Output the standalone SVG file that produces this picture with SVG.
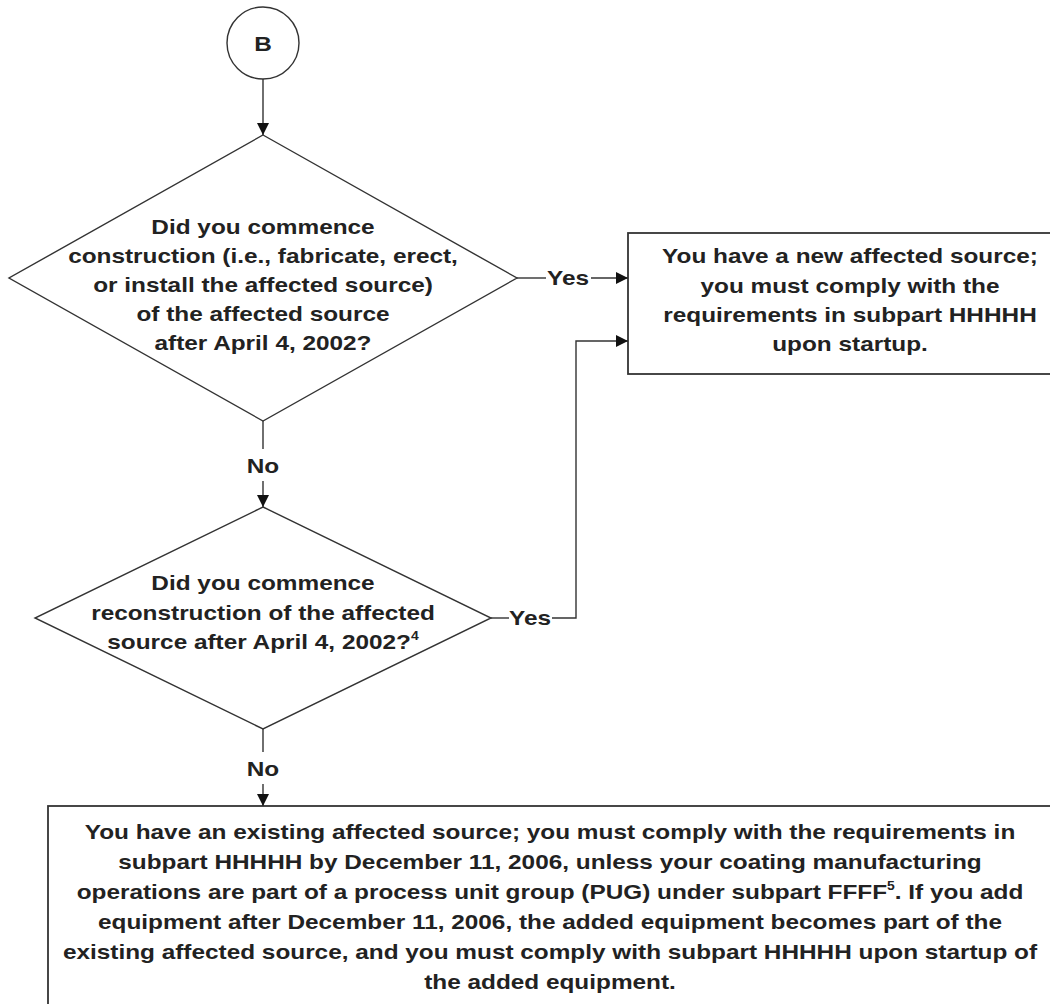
<svg xmlns="http://www.w3.org/2000/svg" width="1050" height="1004" viewBox="0 0 1050 1004">
<defs>
<style>
.shape{fill:#fff;stroke:#333;stroke-width:1.4}
.box{fill:#fff;stroke:#333;stroke-width:1.8}
.conn{fill:none;stroke:#333;stroke-width:1.4}
.t{font-family:"Liberation Sans",Arial,Helvetica,sans-serif;font-weight:bold;font-size:21px;fill:#222;text-anchor:middle}
.sup{font-size:12px}
</style>
<marker id="arr" markerUnits="userSpaceOnUse" markerWidth="14" markerHeight="12" refX="12" refY="6" orient="auto">
<path d="M0,0 L12,6 L0,12 Z" fill="#111"/>
</marker>
</defs>
<rect width="1050" height="1004" fill="#fff"/>

<g id="startB">
<circle class="shape" cx="263" cy="43" r="36"/>
<g transform="translate(263 0) scale(1.16 1)"><text class="t" x="0" y="51">B</text></g>
</g>

<g id="q1">
<polygon class="shape" points="263,135 517,278 263,421 9,278"/>
<g transform="translate(263 0) scale(1.16 1)">
<text class="t" x="0" y="234">Did you commence</text>
<text class="t" x="0" y="263">construction (i.e., fabricate, erect,</text>
<text class="t" x="0" y="292">or install the affected source)</text>
<text class="t" x="0" y="321">of the affected source</text>
<text class="t" x="0" y="350">after April 4, 2002?</text>
</g>
</g>

<g id="newSource">
<rect class="box" x="628" y="233" width="445" height="141"/>
<g transform="translate(850 0) scale(1.16 1)">
<text class="t" x="0" y="263">You have a new affected source;</text>
<text class="t" x="0" y="293">you must comply with the</text>
<text class="t" x="0" y="322">requirements in subpart HHHHH</text>
<text class="t" x="0" y="351">upon startup.</text>
</g>
</g>

<g id="q2">
<polygon class="shape" points="263,507 491,618 263,729 35,618"/>
<g transform="translate(263 0) scale(1.16 1)">
<text class="t" x="0" y="590">Did you commence</text>
<text class="t" x="0" y="620">reconstruction of the affected</text>
<text class="t" x="0" y="649">source after April 4, 2002?<tspan class="sup" dy="-9">4</tspan></text>
</g>
</g>

<g id="existingSource">
<rect class="box" x="48" y="806" width="1010" height="220"/>
<g transform="translate(550 0) scale(1.16 1)">
<text class="t" x="0" y="839">You have an existing affected source; you must comply with the requirements in</text>
<text class="t" x="0" y="869">subpart HHHHH by December 11, 2006, unless your coating manufacturing</text>
<text class="t" x="0" y="899">operations are part of a process unit group (PUG) under subpart FFFF<tspan class="sup" dy="-9">5</tspan><tspan dy="9">. If you add</tspan></text>
<text class="t" x="0" y="929">equipment after December 11, 2006, the added equipment becomes part of the</text>
<text class="t" x="0" y="959">existing affected source, and you must comply with subpart HHHHH upon startup of</text>
<text class="t" x="0" y="989">the added equipment.</text>
</g>
</g>

<g id="connectors">
<line class="conn" x1="263" y1="79" x2="263" y2="135" marker-end="url(#arr)"/>
<line class="conn" x1="517" y1="278" x2="546" y2="278"/>
<line class="conn" x1="591" y1="278" x2="628" y2="278" marker-end="url(#arr)"/>
<line class="conn" x1="263" y1="421" x2="263" y2="449"/>
<line class="conn" x1="263" y1="481" x2="263" y2="507" marker-end="url(#arr)"/>
<line class="conn" x1="491" y1="618" x2="509" y2="618"/>
<polyline class="conn" points="552,618 576,618 576,341 628,341" marker-end="url(#arr)"/>
<line class="conn" x1="263" y1="729" x2="263" y2="752"/>
<line class="conn" x1="263" y1="784" x2="263" y2="806" marker-end="url(#arr)"/>
<g transform="translate(568 0) scale(1.16 1)"><text class="t" x="0" y="285">Yes</text></g>
<g transform="translate(530 0) scale(1.16 1)"><text class="t" x="0" y="625">Yes</text></g>
<g transform="translate(263 0) scale(1.16 1)"><text class="t" x="0" y="473">No</text></g>
<g transform="translate(263 0) scale(1.16 1)"><text class="t" x="0" y="776">No</text></g>
</g>
</svg>
